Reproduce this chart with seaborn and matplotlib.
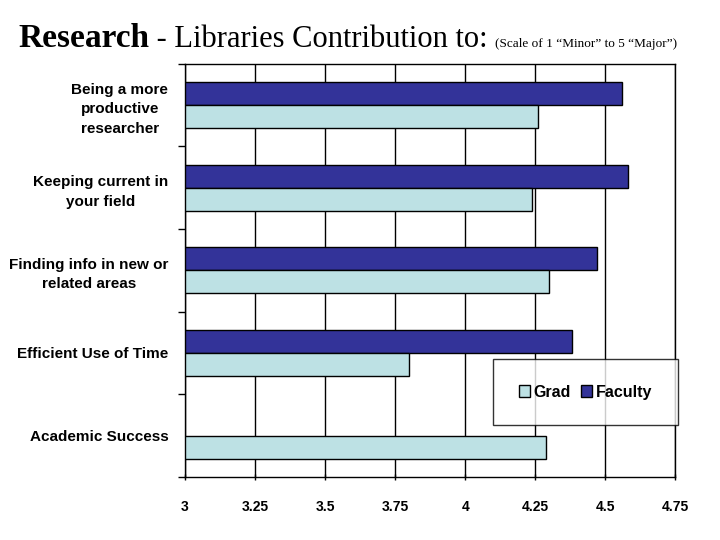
import numpy as np
import pandas as pd
import matplotlib.pyplot as plt
import seaborn as sns
from matplotlib.patches import Patch

# Data
categories = ["Being a more\nproductive\nresearcher",
              "Keeping current in\nyour field",
              "Finding info in new or\nrelated areas",
              "Efficient Use of Time",
              "Academic Success"]
faculty = [4.56, 4.58, 4.47, 4.38, np.nan]
grad = [4.26, 4.24, 4.30, 3.80, 4.29]
xticks = [3, 3.25, 3.5, 3.75, 4, 4.25, 4.5, 4.75]
xtick_labels = ["3", "3.25", "3.5", "3.75", "4", "4.25", "4.5", "4.75"]

df = pd.DataFrame({
    "Category": categories * 2,
    "Score": faculty + grad,
    "Group": ["Faculty"] * len(categories) + ["Grad"] * len(categories),
})

sns.set_theme(style="white")
plt.rcParams['font.family'] = ['Liberation Sans', 'DejaVu Sans']
plt.rcParams['text.color'] = 'black'
plt.rcParams['xtick.color'] = 'black'
plt.rcParams['ytick.color'] = 'black'

fig = plt.figure(figsize=(7.2, 5.4), dpi=100)
ax = fig.add_axes([0.257, 0.117, 0.681, 0.765])

colors = {"Faculty": "#333399", "Grad": "#bde1e4"}
sns.barplot(data=df, y="Category", x="Score", hue="Group",
            hue_order=["Faculty", "Grad"], order=categories,
            palette=colors, saturation=1, orient="h", width=0.56, dodge=True,
            edgecolor="black", linewidth=1, legend=False, ax=ax)

ax.set_xlim(3, 4.75)
ax.set_ylim(len(categories) - 0.5, -0.5)
ax.set_xticks(xticks)
ax.set_xticklabels(xtick_labels, fontsize=10, fontweight="bold")
ax.set_xlabel("")
ax.set_ylabel("")
ax.set_yticks(range(len(categories)))
ax.set_yticklabels(categories, fontsize=11, fontweight="bold",
                   multialignment="center", linespacing=1.5)
ax.tick_params(axis="y", length=0, pad=12)
ax.set_yticks(np.arange(-0.5, len(categories) + 0.5, 1), minor=True)
ax.tick_params(axis="y", which="minor", length=5, width=1, color="black",
               direction="out", left=True)
ax.tick_params(axis="x", length=5, width=1, color="black", direction="inout",
               bottom=True, pad=14)

ax.grid(axis="x", color="black", linewidth=1)
ax.set_axisbelow(True)
for s in ax.spines.values():
    s.set_color("black")
    s.set_linewidth(1)

handles = [Patch(facecolor=colors["Grad"], edgecolor="black", label="Grad"),
           Patch(facecolor=colors["Faculty"], edgecolor="black", label="Faculty")]
leg = ax.legend(handles=handles, loc="lower right", ncol=2,
                bbox_to_anchor=(1.005, 0.125), frameon=True, fancybox=False,
                prop={"weight": "bold", "size": 11.5}, handlelength=0.7,
                handleheight=0.7, handletextpad=0.25, columnspacing=0.6,
                borderpad=1.6, borderaxespad=0)
leg.get_frame().set_edgecolor("black")
leg.get_frame().set_linewidth(1)

# Title in mixed styles
serif = ['Liberation Serif', 'DejaVu Serif']
ty = 0.913
t1 = fig.text(0.025, ty, "Research", fontsize=24, fontweight="bold",
              family=serif, va="baseline")
fig.canvas.draw()
r = fig.canvas.get_renderer()
bb = t1.get_window_extent(r)
t2 = fig.text(bb.x1 / fig.bbox.width, ty, " - Libraries Contribution to: ",
              fontsize=22, family=serif, va="baseline")
bb2 = t2.get_window_extent(r)
fig.text(bb2.x1 / fig.bbox.width, ty,
         "(Scale of 1 \u201cMinor\u201d to 5 \u201cMajor\u201d)",
         fontsize=9.5, family=serif, va="baseline")

fig.savefig("out.png", dpi=100)
